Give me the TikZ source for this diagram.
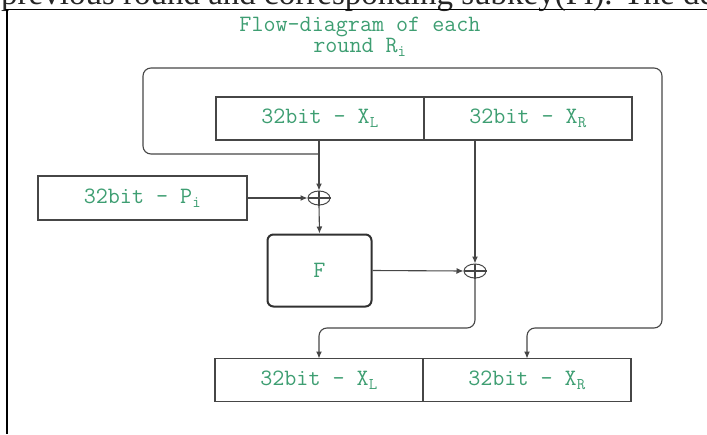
\documentclass[tikz,border=0pt]{standalone}
\usepackage{fontspec}
\setmainfont{Liberation Serif}
\usetikzlibrary{arrows.meta,shapes.geometric}
\definecolor{labelgreen}{RGB}{62,158,114}
\definecolor{linegray}{RGB}{70,70,70}
\setlength{\lineskiplimit}{-30pt}
\begin{document}
\begin{tikzpicture}[x=1pt,y=-1pt,
  wire/.style={draw=linegray,line width=1.1pt},
  flow/.style={wire,-{Latex[length=7pt,width=6pt]}},
  monotext/.style={text=labelgreen,font=\ttfamily\fontsize{23.4}{21}\selectfont},
  regbox/.style={monotext,draw=linegray,line width=1.1pt,minimum width=208pt,minimum height=43pt,inner sep=0pt,outer sep=0pt},
  xorop/.style={ellipse,draw=linegray,line width=1pt,minimum width=22pt,minimum height=14pt,inner sep=0pt}]
\clip (0,0) rectangle (707,434);
\node[anchor=base west,inner sep=0pt,text=black!85,font=\fontsize{33}{36}\selectfont] (intro) at (1,4) {previous round and corresponding subkey(Pi). The de};
\draw[black,line width=1.3pt] (5,9.5) -- (707,9.5);
\draw[black,line width=2pt] (7,9.5) -- (7,434);
\node[monotext,align=center] (title) at (360,36.5) {Flow-diagram of each\\round R\textsubscript{i}};
\node[regbox] (xlT) at (320,118.5) {32bit - X\textsubscript{L}};
\node[regbox] (xrT) at (528,118.5) {32bit - X\textsubscript{R}};
\node[regbox] (xlB) at (319,380) {32bit - X\textsubscript{L}};
\node[regbox] (xrB) at (527,380) {32bit - X\textsubscript{R}};
\node[regbox,minimum width=209pt,minimum height=44pt] (pi) at (142.5,198) {32bit - P\textsubscript{i}};
\node[xorop] (x1) at (319,198) {};
\node[xorop] (x2) at (475,271) {};
\node[monotext,draw=linegray!70!black,line width=2pt,rounded corners=6pt,minimum width=104pt,minimum height=72pt] (F) at (319.5,270.5) {F};
\coordinate (split) at (319,154);
\coordinate (loopNW) at (143,68);
\coordinate (loopSE) at (662,328);
\draw[flow] (x1 |- xlT.south) -- (x1.north);
\draw[wire] (x1.north) -- (x1.south) (x1.west) -- (x1.east);
\draw[flow] (x1.south) -- (F.north);
\draw[flow] (pi.east) -- (x1.west);
\draw[flow,rounded corners=8pt] (split) -- (split -| loopNW) -- (loopNW) -- (loopNW -| loopSE) -- (loopSE) -- (loopSE -| xrB) -- (xrB.north);
\draw[flow] (x2 |- xrT.south) -- (x2.north);
\draw[wire] (x2.north) -- (x2.south) (x2.west) -- (x2.east);
\draw[flow] (F.east) -- (x2.west);
\draw[flow,rounded corners=8pt] (x2.south) -- (x2 |- loopSE) -- (xlB |- loopSE) -- (xlB.north);
\end{tikzpicture}
\end{document}
